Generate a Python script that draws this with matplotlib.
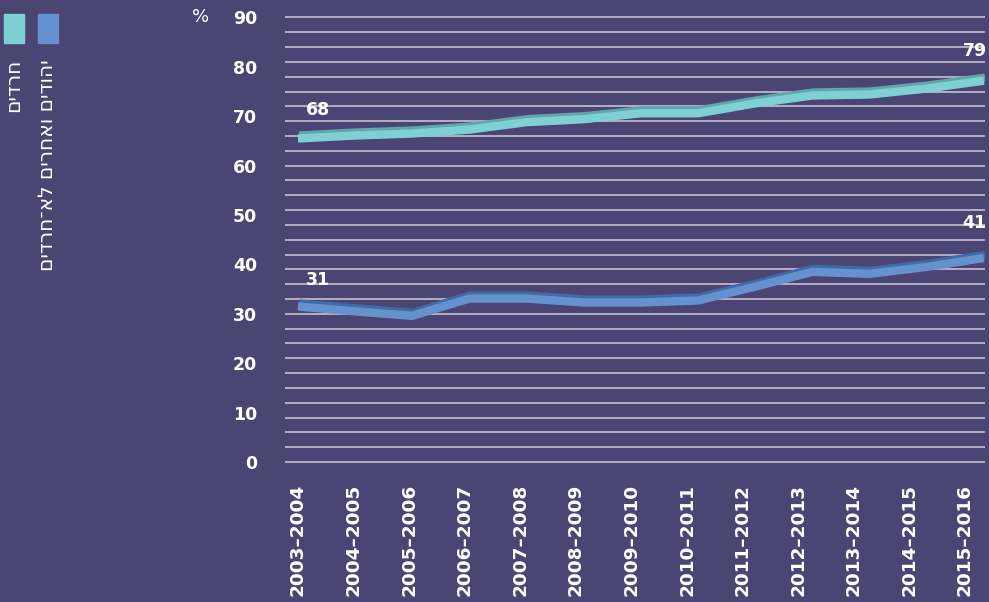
"""
Share of students taking matriculation exams - Haredi vs. non-Haredi Jews.
"""

import matplotlib.pyplot as plt
import matplotlib.transforms as mtransforms
import numpy as np
from matplotlib.patches import Rectangle

seasons = [
    "2003–2004", "2004–2005", "2005–2006", "2006–2007", "2007–2008",
    "2008–2009", "2009–2010", "2010–2011", "2011–2012", "2012–2013",
    "2013–2014", "2014–2015", "2015–2016",
]
haredi = [65.5, 66.1, 66.5, 67.3, 68.8, 69.4, 70.6, 70.6, 72.6, 74.2, 74.4, 75.6, 77.2]
non_haredi = [31.5, 30.5, 29.6, 33.1, 33.1, 32.3, 32.3, 32.7, 35.5, 38.5, 38.1, 39.5, 41.3]
haredi_end_labels = ["68", "79"]
non_haredi_end_labels = ["31", "41"]
series_names = ["חרדים", "יהודים ואחרים לא־חרדים"]
y_ticks = list(range(0, 91, 10))

BG = "#4b4573"
GRID = "#bcb8cc"
FRONT = ["#7ed0d4", "#6592cf"]
TOP = ["#5fa7ab", "#3f6ca6"]
NUM_FONT = ["DejaVu Sans"]
HEB_FONT = ["DejaVu Sans"]
# tick labels sit on the front floor, lines sit deeper - shrink a touch
label_shrink = 0.9725

fig = plt.figure(figsize=(9.89, 6.02), dpi=100, facecolor=BG)
ax = fig.add_axes([285 / 989, 1 - 467 / 602, 700 / 989, 454.5 / 602])
ax.set_facecolor(BG)
ax.set_xlim(-0.227, 12.02)
ax.set_ylim(-1, 91)

for v in np.arange(0, 91, 3):
    ax.axhline(v, color=GRID, lw=1.3, zorder=1)

x = np.arange(len(seasons))
depth = mtransforms.offset_copy(ax.transData, fig=fig, x=1, y=3, units="dots")
for i, vals in enumerate([haredi, non_haredi]):
    ax.plot(x, vals, color=TOP[i], lw=6, solid_capstyle="butt",
            solid_joinstyle="miter", transform=depth, zorder=3)
    ax.plot(x, vals, color=FRONT[i], lw=6, solid_capstyle="butt",
            solid_joinstyle="miter", zorder=4)

# end point labels
for vals, labels, offs in [
    (haredi, haredi_end_labels, [(20, 28), (-9, 30)]),
    (non_haredi, non_haredi_end_labels, [(20, 26), (-10, 35)]),
]:
    for idx, lab, off in zip([0, len(vals) - 1], labels, offs):
        ax.annotate(lab, (x[idx], vals[idx]), xytext=off, textcoords="offset pixels",
                    ha="center", va="center", color="white", fontsize=12.5,
                    fontweight="bold", family=NUM_FONT, zorder=5)

ax.set_yticks(y_ticks, labels=[str(t) for t in y_ticks])
ax.set_xticks(x * label_shrink, labels=seasons, rotation=90)
ax.tick_params(axis="y", length=0, pad=20, labelcolor="white")
ax.tick_params(axis="x", length=0, pad=12, labelcolor="white")
for lab in ax.get_yticklabels():
    lab.set_fontsize(12.5)
for lab in ax.get_xticklabels():
    lab.set_fontsize(13.3)
for lab in ax.get_xticklabels() + ax.get_yticklabels():
    lab.set_fontweight("bold")
    lab.set_family(NUM_FONT)
for s in ax.spines.values():
    s.set_visible(False)

fig.text(201 / 989, 1 - 17 / 602, "%", color="white", fontsize=13,
         ha="center", va="center", family=NUM_FONT)

# legend: colour squares with vertical Hebrew names under them
for i, (name, cx) in enumerate(zip(series_names, [14, 48])):
    fig.patches.append(Rectangle(((cx - 10) / 989, 1 - 43 / 602), 20 / 989, 29 / 602,
                                 transform=fig.transFigure, color=FRONT[i]))
    fig.text(cx / 989, 1 - 59 / 602, name[::-1], rotation=90, color="white",
             fontsize=14.5, ha="center", va="top", family=HEB_FONT)

fig.savefig("out.png", dpi=100, facecolor=BG)
